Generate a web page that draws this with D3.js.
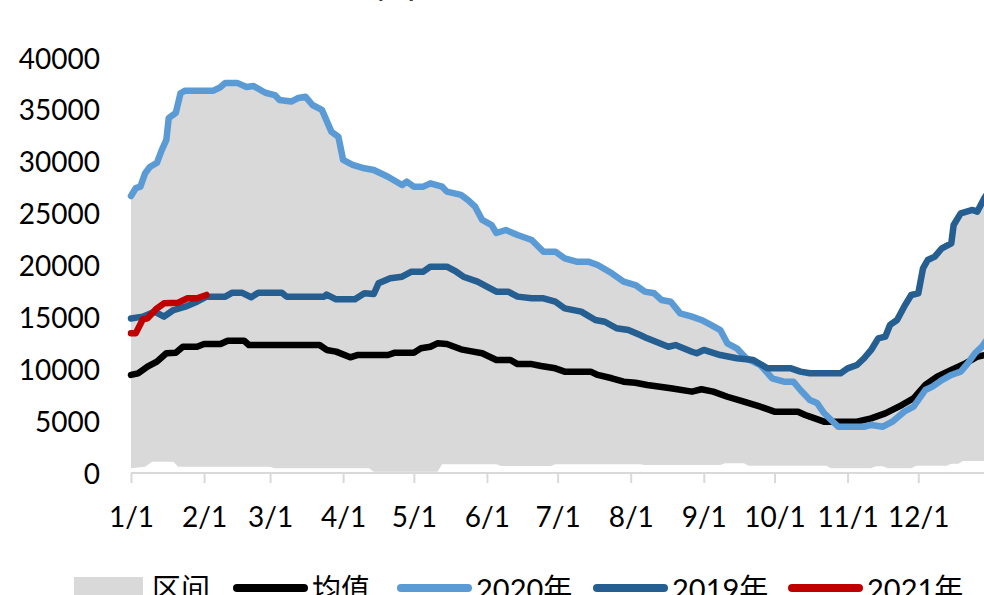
<!DOCTYPE html>
<html>
<head>
<meta charset="utf-8">
<script src="https://cdn.jsdelivr.net/npm/d3@7"></script>
<style>
  body { margin: 0; background: #fff; }
  svg { display: block; }
</style>
</head>
<body>
<svg id="chart" width="984" height="595"></svg>
<script>
// values, [month-day, value]
const yTicks = [0, 5000, 10000, 15000, 20000, 25000, 30000, 35000, 40000]
const monthTicks = ["01-01","02-01","03-01","04-01","05-01","06-01","07-01","08-01","09-01","10-01","11-01","12-01"]

const series2020 = [
  ["01-01",26700],["01-03",27450],["01-05",27600],["01-07",28900],["01-09",29500],["01-12",29900],
  ["01-14",31100],["01-16",32100],["01-17",34200],["01-20",34700],["01-22",36600],["01-24",36850],
  ["02-05",36850],["02-08",37200],["02-10",37600],["02-15",37600],["02-19",37200],["02-22",37300],
  ["02-27",36650],["03-03",36430],["03-05",35950],["03-10",35800],["03-13",36150],["03-16",36270],
  ["03-19",35470],["03-23",35000],["03-27",32900],["03-30",32400],["04-01",30170],["04-05",29700],
  ["04-10",29370],["04-14",29200],["04-20",28560],["04-26",27760],["04-28",28080],["05-01",27600],
  ["05-05",27600],["05-08",27920],["05-13",27600],["05-15",27120],["05-21",26800],["05-24",26300],
  ["05-27",25670],["05-30",24390],["06-03",23900],["06-05",23130],["06-09",23420],["06-14",22940],
  ["06-20",22460],["06-25",21330],["06-30",21330],["07-04",20690],["07-09",20370],["07-14",20370],
  ["07-18",20050],["07-24",19250],["07-29",18440],["08-03",18120],["08-07",17480],["08-11",17320],
  ["08-14",16680],["08-18",16510],["08-22",15390],["08-27",15070],["08-31",14750],["09-04",14270],
  ["09-08",13780],["09-11",12500],["09-15",12020],["09-19",11060],["09-25",10410],["09-30",9130],
  ["10-05",8800],["10-09",8800],["10-12",8000],["10-16",7040],["10-19",6750],["10-22",5780],
  ["10-28",4460],["11-08",4460],["11-11",4630],["11-16",4460],["11-20",4950],["11-25",5910],
  ["11-29",6390],["12-04",8000],["12-07",8320],["12-11",8960],["12-15",9450],["12-19",9770],
  ["12-22",10570],["12-25",11540],["12-28",12170],["12-30",12800]
]

const series2019 = [
  ["01-01",14900],["01-06",15070],["01-11",15550],["01-15",15070],["01-19",15710],["01-24",16030],
  ["01-29",16510],["02-02",17000],["02-10",17000],["02-13",17380],["02-17",17380],["02-21",16940],
  ["02-24",17380],["03-06",17380],["03-08",17000],["03-24",17000],["03-25",17200],["03-29",16740],
  ["04-06",16740],["04-10",17320],["04-14",17250],["04-16",18280],["04-21",18770],["04-26",18920],
  ["04-30",19400],["05-05",19400],["05-08",19890],["05-15",19890],["05-19",19400],["05-22",18920],
  ["05-28",18440],["06-05",17480],["06-10",17480],["06-14",17000],["06-20",16840],["06-25",16840],
  ["06-30",16510],["07-04",15870],["07-11",15550],["07-17",14750],["07-21",14580],["07-26",13950],
  ["07-31",13780],["08-05",13300],["08-08",12980],["08-17",12170],["08-20",12330],["08-27",11690],
  ["08-29",11540],["09-01",11860],["09-08",11370],["09-15",11060],["09-22",10890],["09-28",10090],
  ["10-08",10090],["10-12",9770],["10-16",9610],["10-29",9610],["11-01",10090],["11-05",10410],
  ["11-08",11060],["11-11",11860],["11-14",12980],["11-17",13140],["11-19",14270],["11-22",14750],
  ["11-25",16030],["11-28",17160],["12-01",17320],["12-03",19730],["12-05",20530],["12-08",20850],
  ["12-11",21660],["12-15",22140],["12-16",23900],["12-19",25030],["12-24",25350],["12-26",25190],
  ["12-29",26480],["12-31",27200]
]

const series2021 = [
  ["01-01",13460],["01-03",13460],["01-06",14810],["01-08",14910],["01-12",15870],["01-15",16360],
  ["01-21",16420],["01-25",16840],["01-29",16840],["02-02",17160]
]

const seriesMean = [
  ["01-01",9450],["01-04",9610],["01-08",10250],["01-12",10730],["01-16",11540],["01-20",11600],
  ["01-23",12170],["01-29",12170],["02-01",12430],["02-08",12430],["02-11",12750],["02-18",12750],
  ["02-20",12340],["03-22",12340],["03-25",11860],["03-29",11700],["04-04",11150],["04-07",11370],
  ["04-20",11370],["04-23",11600],["05-01",11600],["05-04",12020],["05-08",12170],["05-11",12500],
  ["05-15",12430],["05-21",11920],["05-25",11750],["05-30",11540],["06-05",10890],["06-11",10890],
  ["06-14",10500],["06-20",10500],["06-24",10310],["06-30",10090],["07-04",9770],["07-15",9770],
  ["07-18",9450],["07-24",9130],["07-29",8800],["08-03",8700],["08-08",8480],["08-18",8160],
  ["08-27",7840],["08-31",8070],["09-05",7840],["09-11",7350],["09-18",6870],["09-25",6390],
  ["10-01",5910],["10-11",5910],["10-14",5590],["10-16",5430],["10-22",4950],["11-05",4950],
  ["11-11",5270],["11-17",5750],["11-24",6550],["11-29",7200],["12-04",8480],["12-09",9280],
  ["12-15",9930],["12-21",10570],["12-26",11210],["12-30",11400]
]

// range band (区间): top and bottom edges
const bandHigh = [
  ["01-01",26700],["01-03",27450],["01-05",27600],["01-07",28900],["01-09",29500],["01-12",29900],
  ["01-14",31100],["01-16",32100],["01-17",34200],["01-20",34700],["01-22",36600],["01-24",36850],
  ["02-05",36850],["02-08",37200],["02-10",37600],["02-15",37600],["02-19",37200],["02-22",37300],
  ["02-27",36650],["03-03",36430],["03-05",35950],["03-10",35800],["03-13",36150],["03-16",36270],
  ["03-19",35470],["03-23",35000],["03-27",32900],["03-30",32400],["04-01",30170],["04-05",29700],
  ["04-10",29370],["04-14",29200],["04-20",28560],["04-26",27760],["04-28",28080],["05-01",27600],
  ["05-05",27600],["05-08",27920],["05-13",27600],["05-15",27120],["05-21",26800],["05-24",26300],
  ["05-27",25670],["05-30",24390],["06-03",23900],["06-05",23130],["06-09",23420],["06-14",22940],
  ["06-20",22460],["06-25",21330],["06-30",21330],["07-04",20690],["07-09",20370],["07-14",20370],
  ["07-18",20050],["07-24",19250],["07-29",18440],["08-03",18120],["08-07",17480],["08-11",17320],
  ["08-14",16680],["08-18",16510],["08-22",15390],["08-27",15070],["08-31",14750],["09-04",14270],
  ["09-08",13780],["09-11",12500],["09-15",12020],["09-19",11060],["09-22",10890],["09-28",10090],
  ["10-08",10090],["10-12",9770],["10-16",9610],["10-29",9610],["11-01",10090],["11-05",10410],
  ["11-08",11060],["11-11",11860],["11-14",12980],["11-17",13140],["11-19",14270],["11-22",14750],
  ["11-25",16030],["11-28",17160],["12-01",17320],["12-03",19730],["12-05",20530],["12-08",20850],
  ["12-11",21660],["12-15",22140],["12-16",23900],["12-19",25030],["12-24",25350],["12-26",25190],
  ["12-29",26480],["12-31",27200]
]

const bandLow = [
  ["01-01",450],["01-07",600],["01-10",1090],["01-19",1090],["01-21",600],["03-01",600],
  ["03-03",450],["04-12",450],["04-14",130],["05-11",130],["05-13",850],["06-05",850],
  ["06-07",670],["06-28",670],["06-30",850],["08-05",850],["08-07",770],["09-08",770],
  ["09-10",930],["09-18",930],["09-20",700],["10-23",700],["10-25",450],["11-11",450],
  ["11-13",650],["11-16",650],["11-18",450],["11-28",450],["11-30",700],["12-13",700],
  ["12-15",900],["12-18",900],["12-20",1150],["12-31",1150]
]

const legendItems = [
  {label: "区间", kind: "rect", color: "#d9d9d9"},
  {label: "均值", kind: "line", color: "#000000"},
  {label: "2020年", kind: "line", color: "#5b9bd5"},
  {label: "2019年", kind: "line", color: "#255e91"},
  {label: "2021年", kind: "line", color: "#c00000"}
]

const dims = {
  width: 984,
  height: 595,
  left: 131,
  right: 989,
  top: 58,
  bottom: 473
}

const fontNum = "Lato, Carlito, Calibri, 'Noto Sans CJK SC', sans-serif"
const parseDay = d3.timeParse("%m-%d")
const fmtTick = d3.timeFormat("%-m/%-d")

const svg = d3.select("#chart")

const x = d3.scaleTime()
  .domain([parseDay("01-01"), parseDay("12-31")])
  .range([dims.left, dims.right])

const y = d3.scaleLinear()
  .domain([0, 40000])
  .range([dims.bottom, dims.top])

// title, mostly off the top edge
svg.append("text")
  .attr("x", 376).attr("y", -3)
  .attr("font-family", "'Noto Sans CJK SC', sans-serif")
  .attr("font-size", 40)
  .attr("fill", "#000")
  .text("图")

const plot = svg.append("g")

// band
const bandPts = bandHigh.map(d => [x(parseDay(d[0])), y(d[1])])
  .concat(bandLow.slice().reverse().map(d => [x(parseDay(d[0])), y(d[1])]))
plot.append("path")
  .attr("d", d3.line()(bandPts) + "Z")
  .attr("fill", "#d9d9d9")

// x axis
const xAxis = d3.axisBottom(x)
  .tickValues(monthTicks.map(parseDay))
  .tickSize(10)
  .tickFormat(fmtTick)

const gx = svg.append("g")
  .attr("transform", `translate(0,${dims.bottom})`)
  .call(xAxis)
gx.select(".domain").attr("stroke", "#d9d9d9").attr("stroke-width", 2)
  .attr("d", `M${dims.left},0H${dims.width + 10}`)
gx.selectAll(".tick line").attr("stroke", "#d9d9d9").attr("stroke-width", 2)
gx.selectAll(".tick text")
  .attr("y", 54).attr("dy", 0)
  .attr("font-family", fontNum)
  .attr("font-size", 28)
  .attr("fill", "#000")

// y axis, labels only
const yAxis = d3.axisLeft(y).tickValues(yTicks).tickSize(0).tickFormat(d3.format("d"))
const gy = svg.append("g")
  .attr("transform", `translate(${dims.left},0)`)
  .call(yAxis)
gy.select(".domain").remove()
gy.selectAll(".tick text")
  .attr("x", -31).attr("dy", 10)
  .attr("font-family", fontNum)
  .attr("font-size", 28)
  .attr("fill", "#000")

// lines
const line = d3.line()
  .x(d => x(parseDay(d[0])))
  .y(d => y(d[1]))

const drawOrder = [
  [seriesMean, "#000000"],
  [series2020, "#5b9bd5"],
  [series2019, "#255e91"],
  [series2021, "#c00000"]
]

drawOrder.forEach(([data, color]) => {
  plot.append("path")
    .datum(data)
    .attr("d", line)
    .attr("fill", "none")
    .attr("stroke", color)
    .attr("stroke-width", 6.5)
    .attr("stroke-linejoin", "round")
    .attr("stroke-linecap", "round")
})

// legend
const legendX = [74, 233, 397, 593, 788]
const legend = svg.append("g")
legendItems.forEach((item, i) => {
  const lx = legendX[i]
  if (item.kind === "rect") {
    legend.append("rect")
      .attr("x", lx).attr("y", 577)
      .attr("width", 69).attr("height", 22)
      .attr("fill", item.color)
  } else {
    legend.append("line")
      .attr("x1", lx + 4).attr("x2", lx + 71)
      .attr("y1", 588).attr("y2", 588)
      .attr("stroke", item.color)
      .attr("stroke-width", 8)
      .attr("stroke-linecap", "round")
  }
  legend.append("text")
    .attr("x", lx + (item.kind === "rect" ? 78 : 79))
    .attr("y", 600)
    .attr("font-family", fontNum)
    .attr("font-size", 29)
    .attr("fill", "#000")
    .text(item.label)
})
</script>
</body>
</html>
